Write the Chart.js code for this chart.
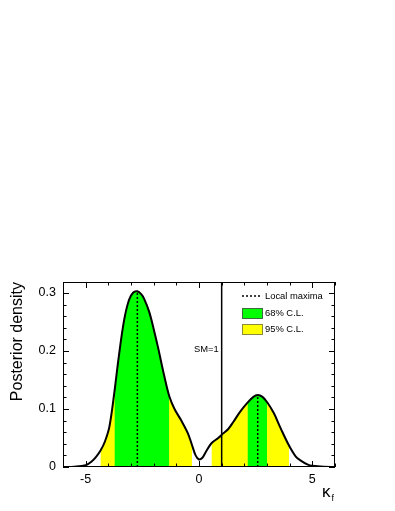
<!DOCTYPE html>
<html>
<head>
<meta charset="utf-8">
<script src="https://cdn.jsdelivr.net/npm/chart.js@4/dist/chart.umd.min.js"></script>
<style>
  html, body { margin: 0; padding: 0; background: #fff; }
  #wrap { width: 395px; height: 511px; position: relative; }
</style>
</head>
<body>
<div id="wrap"><canvas id="grafico"></canvas></div>
<script>
// posterior curve
const kappaX = [-6.0, -5.5, -5.0, -4.75, -4.55, -4.35, -4.15, -3.95, -3.73, -3.54, -3.31, -3.09, -2.9, -2.72, -2.55, -2.42, -2.2, -2.0, -1.8, -1.55, -1.31, -1.08, -0.78, -0.49, -0.31, -0.15, 0.0, 0.15, 0.3, 0.55, 0.85, 1.07, 1.3, 1.52, 1.81, 2.14, 2.4, 2.59, 2.8, 3.0, 3.3, 3.6, 3.97, 4.27, 4.49, 4.8, 5.0, 5.5, 6.0];
const densidad = [0, 0.0005, 0.003, 0.009, 0.017, 0.028, 0.044, 0.07, 0.13, 0.19, 0.252, 0.288, 0.301, 0.303, 0.298, 0.29, 0.268, 0.238, 0.205, 0.16, 0.122, 0.1, 0.08, 0.058, 0.038, 0.02, 0.013, 0.016, 0.026, 0.041, 0.05, 0.058, 0.066, 0.078, 0.095, 0.111, 0.121, 0.124, 0.121, 0.112, 0.093, 0.067, 0.037, 0.018, 0.011, 0.004, 0.002, 0.0003, 0];

// credibility intervals
const intervalos95 = [[-4.35, -0.31], [0.55, 3.97]];
const intervalos68 = [[-3.73, -1.31], [2.14, 3.0]];

// local maxima
const maximosX = [-2.72, 2.59];
const maximosY = [0.303, 0.124];

const valorSM = 1;
const ticksX = [-5, 0, 5];
const ticksY = [0, 0.1, 0.2, 0.3];

const fuente = "'Liberation Sans', Arial, Helvetica, sans-serif";
const tension = 0.35;

function puntosCurva(lo, hi) {
    const puntos = [];
    for (let i = 0; i < kappaX.length; i++) {
        if (kappaX[i] >= lo && kappaX[i] <= hi) puntos.push({ x: kappaX[i], y: densidad[i] });
    }
    return puntos;
}

const datasets = [];

datasets.push({
    label: "curva",
    data: kappaX.map((x, i) => ({ x: x, y: densidad[i] })),
    borderColor: "#000",
    borderWidth: 2,
    pointRadius: 0,
    fill: false,
    tension: tension,
    order: 0
});

maximosX.forEach((x, i) => {
    datasets.push({
        label: "maximo",
        data: [{ x: x, y: 0 }, { x: x, y: maximosY[i] }],
        borderColor: "#000",
        borderWidth: 1.5,
        borderDash: [2, 2],
        pointRadius: 0,
        fill: false,
        order: 1
    });
});

datasets.push({
    label: "SM",
    data: [{ x: valorSM, y: 0 }, { x: valorSM, y: 0.319 }],
    borderColor: "#000",
    borderWidth: 1.5,
    pointRadius: 0,
    fill: false,
    order: 1
});

intervalos68.forEach(([lo, hi]) => {
    datasets.push({
        label: "68",
        data: puntosCurva(lo, hi),
        borderWidth: 0,
        borderColor: "rgba(0,0,0,0)",
        backgroundColor: "#00ff00",
        pointRadius: 0,
        fill: "origin",
        tension: tension,
        order: 2
    });
});

intervalos95.forEach(([lo, hi]) => {
    datasets.push({
        label: "95",
        data: puntosCurva(lo, hi),
        borderWidth: 0,
        borderColor: "rgba(0,0,0,0)",
        backgroundColor: "#ffff00",
        pointRadius: 0,
        fill: "origin",
        tension: tension,
        order: 3
    });
});

/* marco, ticks interiores, leyenda y textos estilo ROOT */
const pluginMarco = {
    id: "marco",
    afterDraw(chart) {
        const ctx = chart.ctx;
        const area = chart.chartArea;
        const sx = chart.scales.x;
        const sy = chart.scales.y;
        ctx.save();
        ctx.strokeStyle = "#000";
        ctx.lineWidth = 1;
        ctx.strokeRect(area.left + 0.5, area.top + 0.5, area.right - area.left - 1, area.bottom - area.top - 1);

        // x ticks (abajo y arriba)
        for (let v = -6; v <= 6; v++) {
            const px = Math.round(sx.getPixelForValue(v)) + 0.5;
            const largo = (v % 5 === 0) ? 6 : 3.5;
            ctx.beginPath();
            ctx.moveTo(px, area.bottom); ctx.lineTo(px, area.bottom - largo);
            ctx.moveTo(px, area.top); ctx.lineTo(px, area.top + largo);
            ctx.stroke();
        }
        // y ticks (izquierda y derecha)
        for (let k = 0; k <= 15; k++) {
            const v = k * 0.02;
            const py = Math.round(sy.getPixelForValue(v)) + 0.5;
            const largo = (k % 5 === 0) ? 6 : 3.5;
            ctx.beginPath();
            ctx.moveTo(area.left, py); ctx.lineTo(area.left + largo, py);
            ctx.moveTo(area.right, py); ctx.lineTo(area.right - largo, py);
            ctx.stroke();
        }

        // SM=1
        ctx.fillStyle = "#000";
        ctx.font = "9.4px " + fuente;
        ctx.textAlign = "right";
        ctx.textBaseline = "middle";
        ctx.fillText("SM=1", sx.getPixelForValue(valorSM) - 3, 349);

        // leyenda
        const lx = 242, lw = 20;
        ctx.textAlign = "left";
        ctx.beginPath();
        ctx.setLineDash([2, 2]);
        ctx.lineWidth = 1.5;
        ctx.moveTo(lx, 296); ctx.lineTo(lx + lw, 296);
        ctx.stroke();
        ctx.setLineDash([]);
        ctx.fillText("Local maxima", 265, 296);

        ctx.lineWidth = 1;
        ctx.fillStyle = "#00ff00";
        ctx.fillRect(lx, 308, lw, 10);
        ctx.strokeStyle = "#3d6b3d";
        ctx.strokeRect(lx + 0.5, 308.5, lw, 10);
        ctx.fillStyle = "#000";
        ctx.fillText("68% C.L.", 265, 313.5);

        ctx.fillStyle = "#ffff00";
        ctx.fillRect(lx, 324, lw, 10);
        ctx.strokeStyle = "#8a8a3a";
        ctx.strokeRect(lx + 0.5, 324.5, lw, 10);
        ctx.fillStyle = "#000";
        ctx.fillText("95% C.L.", 265, 329.5);

        // titulo eje x: kappa_f
        ctx.textBaseline = "alphabetic";
        ctx.font = "17px " + fuente;
        ctx.fillText("\u03ba", 322, 497);
        ctx.font = "9px " + fuente;
        ctx.fillText("f", 331.5, 501);
        ctx.restore();
    }
};

new Chart(document.getElementById("grafico"), {
    type: "line",
    data: { datasets: datasets },
    options: {
        responsive: true,
        maintainAspectRatio: false,
        animation: false,
        layout: { padding: { left: 0, right: 60, top: 282, bottom: 0 } },
        plugins: {
            legend: { display: false },
            tooltip: { enabled: false }
        },
        scales: {
            x: {
                type: "linear",
                min: -6,
                max: 6,
                grid: { display: false, drawTicks: false },
                border: { display: false },
                afterBuildTicks: s => { s.ticks = ticksX.map(v => ({ value: v })); },
                afterFit: s => { s.height = 44; },
                ticks: {
                    color: "#000",
                    padding: 5,
                    maxRotation: 0,
                    font: { family: fuente, size: 12.5 },
                    callback: v => String(v)
                }
            },
            y: {
                type: "linear",
                min: 0,
                max: 0.319,
                grid: { display: false, drawTicks: false },
                border: { display: false },
                afterBuildTicks: s => { s.ticks = ticksY.map(v => ({ value: v })); },
                afterFit: s => { s.width = 63; },
                title: {
                    display: true,
                    text: "Posterior density",
                    align: "end",
                    color: "#000",
                    font: { family: fuente, size: 16 },
                    padding: { top: 8, bottom: 0 }
                },
                ticks: {
                    color: "#000",
                    padding: 7,
                    font: { family: fuente, size: 12.5 },
                    callback: v => v === 0 ? "0" : v.toFixed(1)
                }
            }
        }
    },
    plugins: [pluginMarco]
});
</script>
</body>
</html>
